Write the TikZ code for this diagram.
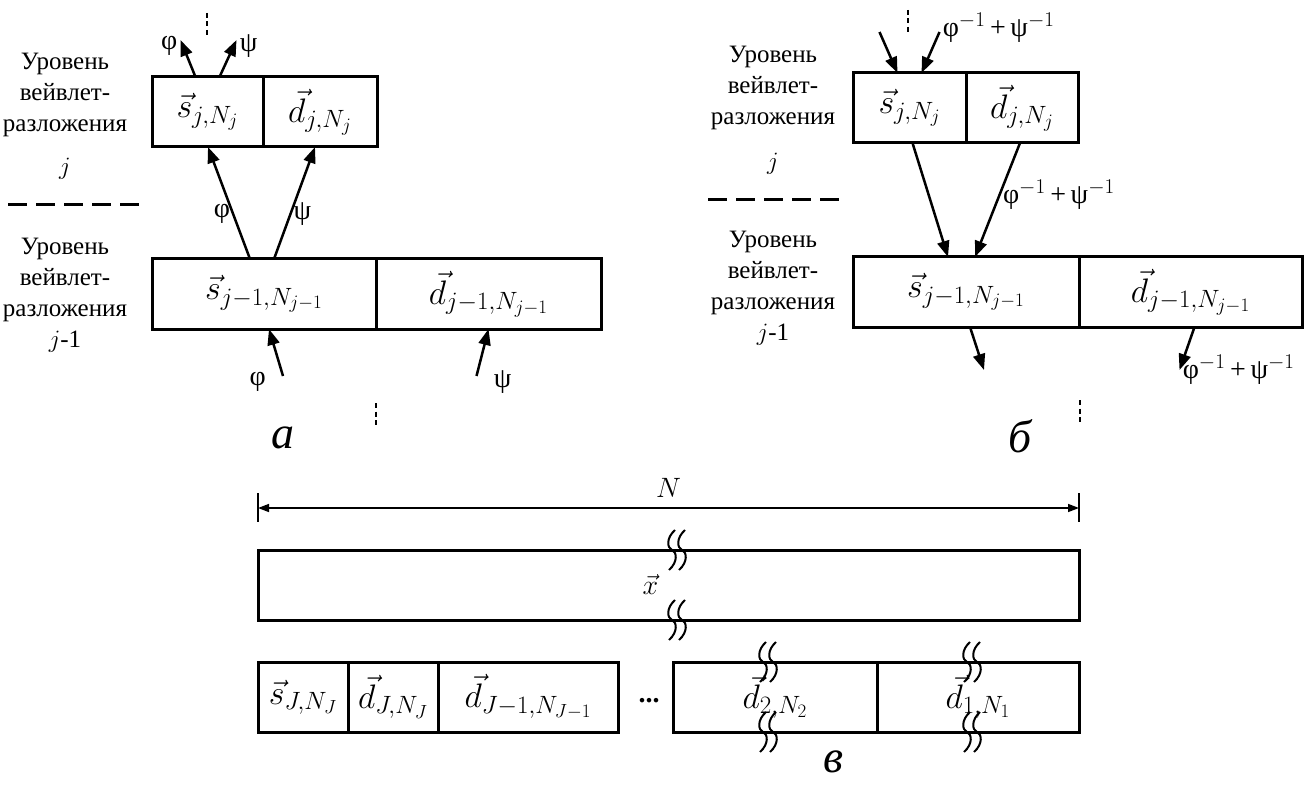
\documentclass[tikz,border=0pt]{standalone}
\usepackage{fix-cm}
\usepackage{fontspec}
\setmainfont{Liberation Serif}
\usetikzlibrary{arrows.meta,positioning}
\DeclareMathSizes{34}{34}{25}{19}
\DeclareMathSizes{28}{28}{21}{16}

\tikzset{
  cell/.style={draw, line width=3pt, outer sep=0pt, inner sep=0pt, minimum height=70pt, font=\fontsize{34}{40}\selectfont},
  lvl/.style={align=center, font=\fontsize{25}{31}\selectfont},
  lbl/.style={font=\fontsize{28}{32}\selectfont, inner sep=2pt},
  link/.style={line width=2.5pt},
  sep line/.style={line width=3pt, dash pattern=on 19pt off 9pt},
  dot line/.style={line width=2pt, dash pattern=on 5pt off 3.5pt},
  dim line/.style={line width=1.5pt, {Triangle[length=11pt,width=8pt]}-{Triangle[length=11pt,width=8pt]}},
  fig/.style={font=\fontsize{46}{50}\selectfont\itshape},
  brk/.pic={
    \foreach \dx in {-5,5}
      \draw[line width=2pt] (\dx+3,-20) .. controls (\dx-6,-12) and (\dx-5,-2) .. (\dx,0)
        .. controls (\dx+5,2) and (\dx+6,12) .. (\dx-3,20);
  },
}

\begin{document}
\begin{tikzpicture}[x=1pt, y=-1pt, >={Triangle[length=16pt,width=12pt]}]
\useasboundingbox (0,0) rectangle (1313,799);

% а
\node[lvl] (aLvlTop) at (65,116) {Уровень\\вейвлет-\\разложения\\[12pt]$j$};
\node[lvl] (aLvlBot) at (65,295) {Уровень\\вейвлет-\\разложения\\$j$-1};
\coordinate (aSepL) at (8,205);
\coordinate (aSepR) at (142,205);
\draw[sep line] (aSepL) -- (aSepR);

\node[cell, minimum width=111pt] (aS) at (207.5,112) {$\vec{s}_{j,N_j}$};
\node[cell, minimum width=114pt, right=0pt of aS] (aD) {$\vec{d}_{j,N_j}$};
\node[cell, minimum width=224pt] (aS1) at (264,294) {$\vec{s}_{j-1,N_{j-1}}$};
\node[cell, minimum width=225pt, right=0pt of aS1] (aD1) {$\vec{d}_{j-1,N_{j-1}}$};

\draw[link, ->] ([xshift=-14pt]aS1.north) -- node[lbl, pos=.4, left] (aPhiMid) {φ} ([xshift=0.5pt]aS.south);
\draw[link, ->] ([xshift=10pt]aS1.north) -- node[lbl, pos=.4, right] (aPsiMid) {ψ} ([xshift=-5pt]aD.south);
\draw[link, ->] ([xshift=-12pt]aS.north) -- ++(-15,-37) node[lbl, left, yshift=-6pt] (aPhiTop) {φ};
\draw[link, ->] ([xshift=12pt]aS.north) -- ++(17,-37) node[lbl, right, yshift=-6pt] (aPsiTop) {ψ};
\coordinate (aDotT1) at (207,13);
\coordinate (aDotT2) at (207,35);
\draw[dot line] (aDotT1) -- (aDotT2);
\draw[link, <-] ([xshift=5pt]aS1.south) -- ++(14,47) node[lbl, left=14pt, yshift=-6pt] (aPhiBot) {φ};
\draw[link, <-] (aD1.south) -- ++(-12,47) node[lbl, right=14pt, yshift=-6pt] (aPsiBot) {ψ};
\coordinate (aDotB1) at (376,403);
\coordinate (aDotB2) at (376,425);
\draw[dot line] (aDotB1) -- (aDotB2);
\node[fig] (aFig) at (283,438) {а};

% б
\node[lvl] (bLvlTop) at (773,110) {Уровень\\вейвлет-\\разложения\\[14pt]$j$};
\node[lvl] (bLvlBot) at (773,288) {Уровень\\вейвлет-\\разложения\\$j$-1};
\coordinate (bSepL) at (708,200);
\coordinate (bSepR) at (842,200);
\draw[sep line] (bSepL) -- (bSepR);

\node[cell, minimum width=113pt] (bS) at (909.5,108) {$\vec{s}_{j,N_j}$};
\node[cell, minimum width=112pt, right=0pt of bS] (bD) {$\vec{d}_{j,N_j}$};
\node[cell, minimum width=226pt] (bS1) at (966,292) {$\vec{s}_{j-1,N_{j-1}}$};
\node[cell, minimum width=223pt, right=0pt of bS1] (bD1) {$\vec{d}_{j-1,N_{j-1}}$};

\draw[link, <-] ([xshift=-12pt]bS.north) -- ++(-18,-41);
\draw[link, <-] ([xshift=12pt]bS.north) -- ++(18,-41) node[lbl, right, yshift=4pt] (bTopLbl) {φ$^{-1}$\,+\,ψ$^{-1}$};
\coordinate (bDotT1) at (908,10);
\coordinate (bDotT2) at (908,32);
\draw[dot line] (bDotT1) -- (bDotT2);
\draw[link, ->] ([xshift=3pt]bS.south) -- ([xshift=-18pt]bS1.north);
\draw[link, ->] ([xshift=-2pt]bD.south) -- node[lbl, pos=.45, right] (bMidLbl) {φ$^{-1}$\,+\,ψ$^{-1}$} ([xshift=9pt]bS1.north);
\draw[link, ->] ([xshift=4pt]bS1.south) -- ++(14,43);
\draw[link, ->] ([xshift=4pt]bD1.south) -- ++(-15,43) node[lbl, right] (bBotLbl) {φ$^{-1}$\,+\,ψ$^{-1}$};
\coordinate (bDotB1) at (1080,400);
\coordinate (bDotB2) at (1080,422);
\draw[dot line] (bDotB1) -- (bDotB2);
\node[fig] (bFig) at (1020,436) {б};

% в
\coordinate (dimL) at (258,508);
\coordinate (dimR) at (1079,508);
\draw[dim line] (dimL) -- node[lbl, above=8pt] (dimN) {$N$} (dimR);
\draw[line width=1.5pt] ([yshift=15pt]dimL) -- ([yshift=-14pt]dimL);
\draw[line width=1.5pt] ([yshift=15pt]dimR) -- ([yshift=-14pt]dimR);

\node[cell, minimum width=821pt] (xVec) at (668.5,585) {};
\node[lbl] (xLbl) at ([xshift=-18pt]xVec.center) {$\vec{x}$};
\pic at (677,550) {brk};
\pic at (677,620) {brk};

\node[cell, minimum width=90pt] (cS) at (303,697) {$\vec{s}_{J,N_J}$};
\node[cell, minimum width=90pt, right=0pt of cS] (cDJ) {$\vec{d}_{J,N_J}$};
\node[cell, minimum width=180pt, right=0pt of cDJ] (cDJ1) {$\vec{d}_{J-1,N_{J-1}}$};
\node[lbl, anchor=base] (cDots) at (649,702) {\textbf{...}};
\node[cell, minimum width=204pt] (cD2) at (775,697) {$\vec{d}_{2,N_2}$};
\node[cell, minimum width=202pt, right=0pt of cD2] (cD1) {$\vec{d}_{1,N_1}$};
\pic at (768,662) {brk};
\pic at (768,732) {brk};
\pic at (972,662) {brk};
\pic at (972,732) {brk};
\node[fig] (cFig) at (833,762) {в};
\end{tikzpicture}
\end{document}
